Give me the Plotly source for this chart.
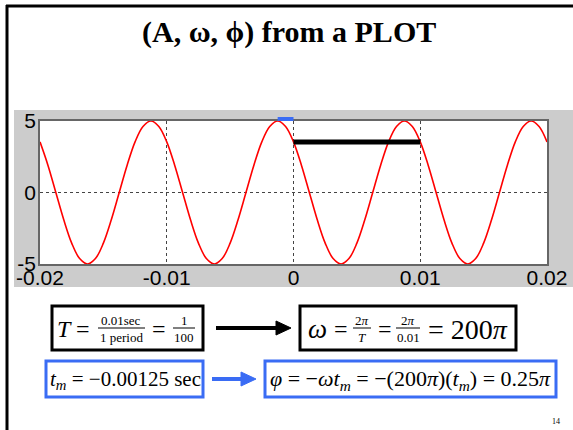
import numpy as np
import plotly.graph_objects as go

W, H = 573, 430

# ---------------- data ----------------
# red sinusoid read from the plot, sampled every 1/16 period (0.000625 s)
y_values = [
    3.54, 1.91, 0.0, -1.91, -3.54, -4.62, -5.0, -4.62, -3.54, -1.91, 0.0, 1.91, 3.54, 4.62, 5.0, 4.62,
    3.54, 1.91, 0.0, -1.91, -3.54, -4.62, -5.0, -4.62, -3.54, -1.91, 0.0, 1.91, 3.54, 4.62, 5.0, 4.62,
    3.54, 1.91, 0.0, -1.91, -3.54, -4.62, -5.0, -4.62, -3.54, -1.91, 0.0, 1.91, 3.54, 4.62, 5.0, 4.62,
    3.54, 1.91, 0.0, -1.91, -3.54, -4.62, -5.0, -4.62, -3.54, -1.91, 0.0, 1.91, 3.54, 4.62, 5.0, 4.62,
    3.54,
]
t_values = np.linspace(-0.02, 0.02, len(y_values))

period_bar_t = [0.0, 0.01]
period_bar_y = [3.54, 3.54]
tm_bar_t = [-0.00125, 0.0]

x_tickvals = [-0.02, -0.01, 0, 0.01, 0.02]
x_ticktext = ["-0.02", "-0.01", "0", "0.01", "0.02"]
y_tickvals = [-5, 0, 5]
y_ticktext = ["-5", "0", "5"]

title_text = "<b>(A, ω, ϕ) from a PLOT</b>"
page_number = "14"

BLUE = "#3a6cf4"
SERIF = "Liberation Serif"
SANS = "Liberation Sans"


def px(x):
    return x / W


def py(y):
    return 1 - y / H


fig = go.Figure()
fig.add_trace(go.Scatter(x=t_values, y=y_values, mode="lines", line=dict(color="#ff0000", width=1.6, shape="spline"),
                         hoverinfo="skip", showlegend=False))
fig.add_trace(go.Scatter(x=period_bar_t, y=period_bar_y, mode="lines", line=dict(color="black", width=5),
                         hoverinfo="skip", showlegend=False))

shapes = []
# gray figure background and white axes background
shapes.append(dict(type="rect", xref="paper", yref="paper", x0=px(14), x1=px(575), y0=py(287), y1=py(110),
                   fillcolor="#cccccc", line=dict(width=0), layer="below"))
shapes.append(dict(type="rect", xref="paper", yref="paper", x0=px(40), x1=px(547), y0=py(264), y1=py(121),
                   fillcolor="white", line=dict(width=0), layer="below"))
# slide border
shapes.append(dict(type="line", xref="paper", yref="paper", x0=px(7), x1=px(7), y0=py(5), y1=py(432),
                   line=dict(color="black", width=3), layer="above"))
shapes.append(dict(type="line", xref="paper", yref="paper", x0=px(6), x1=px(575), y0=py(6), y1=py(6),
                   line=dict(color="black", width=3), layer="above"))
# blue t_m marker above the plot
shapes.append(dict(type="rect", xref="x", yref="paper", x0=tm_bar_t[0], x1=tm_bar_t[1], y0=py(121), y1=py(117),
                   fillcolor=BLUE, line=dict(width=0), layer="above"))


def box(x0, y0, x1, y1, color):
    shapes.append(dict(type="rect", xref="paper", yref="paper", x0=px(x0), x1=px(x1), y0=py(y1), y1=py(y0),
                       line=dict(color=color, width=3), fillcolor="rgba(0,0,0,0)", layer="above"))


def arrow(x0, x1, y, color):
    shapes.append(dict(type="line", xref="paper", yref="paper", x0=px(x0), x1=px(x1 - 12), y0=py(y), y1=py(y),
                       line=dict(color=color, width=4), layer="above"))
    path = f"M {px(x1 - 15)} {py(y - 7)} L {px(x1)} {py(y)} L {px(x1 - 15)} {py(y + 7)} Z"
    shapes.append(dict(type="path", xref="paper", yref="paper", path=path, fillcolor=color,
                       line=dict(color=color, width=1), layer="above"))


def fracline(x0, x1, y):
    shapes.append(dict(type="line", xref="paper", yref="paper", x0=px(x0), x1=px(x1), y0=py(y), y1=py(y),
                       line=dict(color="black", width=1), layer="above"))


box(52, 306, 203, 350, "black")
box(300, 306, 516, 350, "black")
box(46, 361, 203, 397, BLUE)
box(265, 361, 556, 397, BLUE)
arrow(216, 291, 328, "black")
arrow(212, 256, 379, BLUE)

annotations = []


def txt(x, y, s, size, anchor="center", family=SERIF, color="black"):
    annotations.append(dict(xref="paper", yref="paper", x=px(x), y=py(y), text=s, showarrow=False,
                            xanchor=anchor, yanchor="middle", font=dict(family=family, size=size, color=color)))


# title
txt(289, 32, title_text, 30)

# box 1: T = 0.01sec / 1 period = 1 / 100
txt(55, 329, "<i>T</i>", 24, "left")
txt(83, 329, "=", 24)
txt(121, 320, "0.01sec", 13)
fracline(98, 145, 328)
txt(121, 337, "1 period", 13)
txt(159, 329, "=", 24)
txt(184, 320, "1", 13)
fracline(173, 195, 328)
txt(184, 337, "100", 13)

# box 2: omega = 2pi/T = 2pi/0.01 = 200 pi
txt(306, 329, "<i>ω</i>", 27, "left")
txt(341, 329, "=", 24)
txt(362, 320, "2<i>π</i>", 13)
fracline(353, 371, 328)
txt(362, 337, "<i>T</i>", 13)
txt(385, 329, "=", 24)
txt(408, 320, "2<i>π</i>", 13)
fracline(396, 420, 328)
txt(408, 337, "0.01", 13)
txt(426, 329, "= 200<i>π</i>", 28, "left")

# box 3 and box 4
txt(125, 380, "<i>t</i><sub><i>m</i></sub> = −0.00125 sec", 21)
txt(410, 380, "<i>φ</i> = −<i>ωt</i><sub><i>m</i></sub> = −(200<i>π</i>)(<i>t</i><sub><i>m</i></sub>) = 0.25<i>π</i>", 22)

# page number
txt(556, 421, page_number, 8)

fig.update_layout(
    width=W, height=H, autosize=False,
    margin=dict(l=0, r=0, t=0, b=0, pad=0, autoexpand=False),
    paper_bgcolor="white", plot_bgcolor="rgba(0,0,0,0)",
    shapes=shapes, annotations=annotations, showlegend=False,
    xaxis=dict(domain=[px(40), px(547)], range=[-0.02, 0.02], tickvals=x_tickvals, ticktext=x_ticktext,
               automargin=False, ticklabelstandoff=-6,
               showgrid=True, griddash="dot", gridcolor="#444", gridwidth=1, zeroline=False,
               showline=True, mirror=True, linecolor="#666", linewidth=1.5, ticks="",
               tickfont=dict(family=SANS, size=21, color="black")),
    yaxis=dict(domain=[py(264), py(121)], range=[-5, 5], tickvals=y_tickvals, ticktext=y_ticktext,
               automargin=False, ticklabelstandoff=-2,
               showgrid=True, griddash="dot", gridcolor="#444", gridwidth=1, zeroline=False,
               showline=True, mirror=True, linecolor="#666", linewidth=1.5, ticks="",
               tickfont=dict(family=SANS, size=21, color="black")),
)

fig.write_html("out.html", config={"displayModeBar": False},
               post_script="document.body.style.margin='0';document.body.style.overflow='hidden';")
